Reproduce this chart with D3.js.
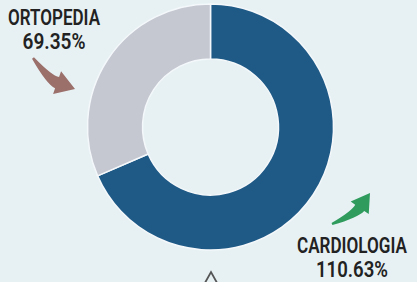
<!DOCTYPE html>
<html>
<head>
<meta charset="utf-8">
<script src="https://cdn.jsdelivr.net/npm/d3@7/dist/d3.min.js"></script>
<style>
  html, body { margin: 0; padding: 0; background: #e7f1f4; }
  svg { display: block; }
  .lbl { font-family: Roboto, "DejaVu Sans", sans-serif; font-weight: 600; fill: #222; }
</style>
</head>
<body>
<div id="chart"></div>
<script>
const width = 417;
const height = 282;

// slice shares as drawn, and the label text shown beside the ring
const categories = ['CARDIOLOGIA', 'ORTOPEDIA'];
const shares = [68.5, 31.5];
const labelValues = ['110.63%', '69.35%'];
const colors = ['#1f5a87', '#c5c7d1'];

const CENTER = { x: 210.5, y: 127 };
const OUTER = 123;
const INNER = 68;

const svg = d3
  .select('#chart')
  .append('svg')
  .attr('width', width)
  .attr('height', height);

svg.append('rect').attr('width', width).attr('height', height).attr('fill', '#e7f1f4');

const pie = d3.pie().sort(null).value((d) => d.share);
const arc = d3.arc().innerRadius(INNER).outerRadius(OUTER);

const slices = pie(categories.map((c, i) => ({ name: c, share: shares[i], color: colors[i] })));

const g = svg.append('g').attr('transform', 'translate(' + CENTER.x + ',' + CENTER.y + ')');

g.selectAll('path.slice')
  .data(slices)
  .join('path')
  .classed('slice', true)
  .attr('d', arc)
  .attr('fill', (d) => d.data.color)
  .attr('stroke', '#f4f8fa')
  .attr('stroke-width', 1.5);

// labels (the reference uses a narrow face, so squeeze to its widths)
const labelPos = [
  { x: 352, y: 253, w: [110, 72] },  // cardiologia
  { x: 54, y: 25, w: [92, 63] }      // ortopedia
];

categories.forEach((c, i) => {
  const p = labelPos[i];
  [c, labelValues[i]].forEach((txt, j) => {
    svg.append('text')
      .attr('class', 'lbl')
      .attr('font-size', 22)
      .attr('x', p.x - p.w[j] / 2)
      .attr('y', p.y + j * 24)
      .attr('textLength', p.w[j])
      .attr('lengthAdjust', 'spacingAndGlyphs')
      .text(txt);
  });
});

// curved annotation arrows
function arrowPath(tail, tip, bend, headLen, headHalf, shaftW) {
  const dx = tip[0] - tail[0], dy = tip[1] - tail[1];
  const L = Math.hypot(dx, dy);
  const u = [dx / L, dy / L];
  const n = [-u[1], u[0]];
  const C = [tail[0] + u[0] * L * 0.5 + n[0] * bend, tail[1] + u[1] * L * 0.5 + n[1] * bend];
  let hd = [tip[0] - C[0], tip[1] - C[1]];
  const hl = Math.hypot(hd[0], hd[1]);
  hd = [hd[0] / hl, hd[1] / hl];
  const B = [tip[0] - hd[0] * headLen, tip[1] - hd[1] * headLen];
  const nb = [-hd[1], hd[0]];
  let td = [C[0] - tail[0], C[1] - tail[1]];
  const tl = Math.hypot(td[0], td[1]);
  td = [td[0] / tl, td[1] / tl];
  const nt = [-td[1], td[0]];
  const nc = [(nb[0] + nt[0]) / 2, (nb[1] + nt[1]) / 2];
  const wt = 1.2, wc = shaftW * 0.42, wb = shaftW / 2;
  const p = d3.path();
  p.moveTo(tail[0] + nt[0] * wt, tail[1] + nt[1] * wt);
  p.quadraticCurveTo(C[0] + nc[0] * wc, C[1] + nc[1] * wc, B[0] + nb[0] * wb, B[1] + nb[1] * wb);
  p.lineTo(B[0] + nb[0] * headHalf, B[1] + nb[1] * headHalf);
  p.lineTo(tip[0], tip[1]);
  p.lineTo(B[0] - nb[0] * headHalf, B[1] - nb[1] * headHalf);
  p.lineTo(B[0] - nb[0] * wb, B[1] - nb[1] * wb);
  p.quadraticCurveTo(C[0] - nc[0] * wc, C[1] - nc[1] * wc, tail[0] - nt[0] * wt, tail[1] - nt[1] * wt);
  p.closePath();
  return p.toString();
}

svg.append('path')
  .attr('d', arrowPath([33, 58], [75, 89], 8, 19, 12, 12))
  .attr('fill', '#9b6f6a');

svg.append('path')
  .attr('d', arrowPath([332, 224], [370, 193], 7, 18, 11, 11))
  .attr('fill', '#2f9b5d');

// small caret below the ring
svg.append('path')
  .attr('d', d3.line()([[201, 290], [211, 272], [221, 290]]))
  .attr('fill', 'none')
  .attr('stroke', '#555')
  .attr('stroke-width', 1.8);
</script>
</body>
</html>
